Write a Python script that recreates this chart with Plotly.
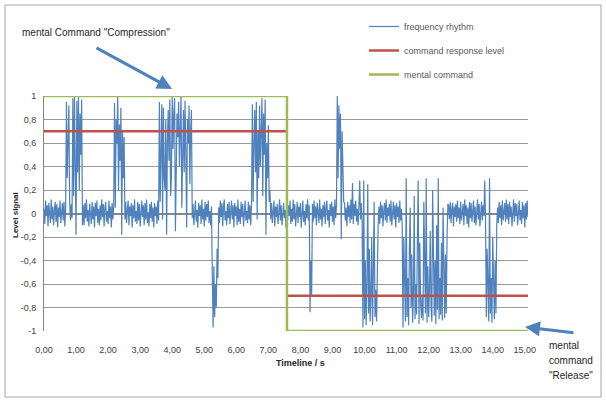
import plotly.graph_objects as go

# ---------------- data ----------------
sample_interval_s = 0.025  # time base of the recorded signal

frequency_rhythm = [
    # 0.000 - 0.675 s
    0.04, -0.09, 0.11, -0.02, 0.07, -0.11, 0.09, 0.01, -0.08, 0.12, -0.05, 0.06, -0.10, 0.03, 0.10, -0.07, 0.08, -0.12, 0.05, -0.03,
    0.11, -0.08, 0.02, 0.09, -0.06, 0.10, -0.11, 0.04,
    # 0.700 - 0.800 s
    0.95, 0.30, 0.60, 0.92, 0.10,
    # 0.825 - 0.875 s
    -0.06, 0.08, -0.04,
    # 0.900 - 1.200 s
    0.98, 0.15, 1.00, 0.40, -0.18, 0.96, 0.35, 0.99, 0.20, 0.85, 0.50, 0.97, -0.10,
    # 1.225 - 2.175 s
    0.07, -0.10, 0.09, -0.04, 0.12, -0.07, 0.03, -0.11, 0.08, 0.01, -0.09, 0.10, -0.05, 0.06, -0.12, 0.09, -0.02, 0.11, -0.08, 0.04,
    -0.10, 0.07, -0.06, 0.12, -0.03, 0.08, -0.11, 0.05, 0.10, -0.07, 0.02, -0.09, 0.11, -0.04, 0.06, -0.12, 0.09, -0.05, 0.07,
    # 2.200 - 2.500 s
    0.94, 0.05, 0.80, 0.60, 1.00, 0.20, 0.76, 0.45, 0.90, -0.18, 0.70, 0.30, 0.65,
    # 2.525 - 3.575 s
    -0.05, 0.10, -0.08, 0.03, 0.11, -0.10, 0.06, -0.02, 0.09, -0.12, 0.07, -0.04, 0.12, -0.07, 0.02, -0.09, 0.10, -0.06, 0.08, -0.11,
    0.04, 0.11, -0.03, 0.07, -0.10, 0.09, -0.05, 0.12, -0.08, 0.01, -0.11, 0.08, -0.04, 0.10, -0.07, 0.05, -0.12, 0.09, -0.02, 0.06,
    -0.09, 0.11, -0.06,
    # 3.600 - 4.600 s
    0.95, 0.10, 0.70, 0.93, -0.05, 0.90, 0.30, 0.20, 0.80, -0.18, 0.60, 0.88, 0.45, 0.97, 0.15, 0.30, 1.00, 0.55, 0.85, 0.98,
    -0.15, 0.40, 0.85, 0.65, 0.95, 0.40, 0.90, 1.00, 0.05, 0.75, 0.88, 0.35, 0.96, 0.50, -0.12, 0.80, 0.60, 0.92, 0.25, 0.70,
    0.88,
    # 4.625 - 5.225 s
    -0.04, 0.08, -0.10, 0.05, 0.11, -0.07, 0.03, -0.12, 0.09, -0.02, 0.07, -0.09, 0.12, -0.05, 0.04, -0.11, 0.10, -0.06, 0.08, -0.03,
    0.11, -0.08, 0.02, -0.10, 0.06,
    # 5.250 - 5.425 s
    -0.50, -0.97, -0.45, -0.88, -0.60, -0.80, -0.30, -0.55,
    # 5.450 - 6.475 s
    0.05, -0.08, 0.11, -0.03, 0.09, -0.11, 0.06, 0.12, -0.06, 0.02, -0.10, 0.08, -0.04, 0.10, -0.09, 0.03, 0.11, -0.05, 0.07, -0.12,
    0.09, -0.02, 0.06, -0.10, 0.12, -0.07, 0.04, -0.09, 0.10, -0.03, 0.08, -0.11, 0.05, 0.11, -0.06, 0.02, -0.08, 0.10, -0.05, 0.07,
    -0.10, 0.09,
    # 6.500 - 7.050 s
    0.93, 0.10, 0.60, 0.88, 0.35, 0.95, -0.05, 0.70, 0.30, 0.92, 0.40, 0.80, 0.98, 0.15, 0.85, 0.50, 0.97, -0.18, 0.60, 0.30,
    0.75, 0.10, 0.20,
    # 7.075 - 8.275 s
    -0.05, 0.09, -0.08, 0.04, 0.11, -0.11, 0.06, -0.03, 0.08, -0.09, 0.02, 0.12, -0.06, 0.07, -0.10, 0.05, 0.09, -0.04, 0.03, -0.12,
    0.10, -0.06, 0.07, -0.02, 0.11, -0.09, 0.04, -0.07, 0.12, -0.05, 0.08, -0.11, 0.03, 0.10, -0.08, 0.06, -0.03, 0.09, -0.12, 0.05,
    0.11, -0.07, 0.02, -0.10, 0.08, -0.04, 0.12, -0.06, 0.07,
    # 8.300 - 8.350 s
    -0.84, -0.40, -0.70,
    # 8.375 - 9.125 s
    0.08, -0.07, 0.11, -0.04, 0.06, -0.10, 0.09, 0.02, -0.08, 0.12, -0.05, 0.04, -0.11, 0.07, -0.03, 0.10, -0.09, 0.05, 0.11, -0.06,
    0.03, -0.12, 0.08, -0.02, 0.10, -0.07, 0.06, -0.10, 0.12, -0.04, 0.07,
    # 9.150 - 9.350 s
    1.00, 0.30, 0.92, 0.55, 0.85, -0.22, 0.70, 0.40, 0.10,
    # 9.375 - 9.925 s
    0.09, -0.06, 0.05, -0.11, 0.10, -0.03, 0.07, -0.08, 0.12, -0.05, 0.26, -0.09, 0.08, -0.02, 0.11, -0.07, 0.04, -0.10, 0.06, 0.28,
    -0.05, 0.09, -0.08,
    # 9.950 - 10.425 s
    -0.97, 0.28, -0.90, -0.40, -0.95, -0.60, 0.25, -0.85, -0.30, -0.92, -0.70, -0.20, -0.95, -0.50, 0.10, -0.88, -0.65, -0.92, -0.30, -0.10,
    # 10.450 - 11.175 s
    0.06, -0.09, 0.10, -0.04, 0.07, -0.11, 0.03, 0.09, -0.06, 0.12, -0.08, 0.05, -0.02, 0.08, -0.07, 0.11, -0.10, 0.04, 0.10, -0.05,
    0.07, -0.12, 0.09, -0.03, 0.06, -0.08, 0.11, -0.06, 0.04, -0.10,
    # 11.200 - 12.600 s
    -0.97, -0.20, -0.60, -0.92, 0.30, -0.88, -0.55, -0.95, -0.30, 0.05, -0.80, -0.35, -0.93, -0.70, 0.15, -0.90, -0.60, -0.86, -0.20, 0.28,
    -0.94, -0.25, -0.75, -0.89, -0.70, -0.91, 0.10, -0.50, -0.85, 0.30, -0.93, -0.45, -0.88, -0.65, -0.15, -0.80, -0.92, 0.20, -0.60, -0.87,
    -0.40, -0.94, -0.10, -0.82, 0.30, -0.90, -0.55, -0.86, -0.25, -0.91, 0.05, -0.70, -0.89, -0.35, -0.85, -0.20, 0.08,
    # 12.625 - 13.775 s
    0.07, -0.05, 0.10, -0.08, 0.04, 0.09, -0.11, 0.06, -0.03, 0.08, -0.07, 0.11, -0.04, 0.05, -0.09, 0.10, -0.06, 0.03, 0.08, -0.10,
    0.12, -0.02, 0.07, -0.09, 0.05, -0.12, 0.10, -0.04, 0.09, -0.07, 0.02, 0.11, -0.08, 0.06, -0.10, 0.04, 0.12, -0.05, 0.08, -0.11,
    0.03, 0.10, -0.06, 0.07, -0.02, 0.28, -0.05,
    # 13.800 - 14.125 s
    -0.88, -0.30, -0.60, -0.92, 0.30, -0.85, -0.55, -0.93, -0.20, -0.75, -0.90, -0.40, -0.85, -0.10,
    # 14.150 - 15.100 s
    0.05, -0.08, 0.10, -0.04, 0.07, -0.10, 0.11, -0.06, 0.03, 0.09, -0.07, 0.12, -0.05, 0.08, -0.09, 0.10, -0.03, 0.06, -0.11, 0.04,
    0.12, -0.07, 0.09, -0.02, 0.08, -0.10, 0.05, 0.11, -0.06, 0.03, -0.09, 0.10, -0.04, 0.07, -0.12, 0.09, -0.05, 0.11, -0.03,
]
timeline_s = [round(i * sample_interval_s, 3) for i in range(len(frequency_rhythm))]

command_switch_s = 7.58
end_s = 15.1

response_t = [0, command_switch_s, None, command_switch_s, end_s]
response_level = [0.7, 0.7, None, -0.7, -0.7]

mental_t = [0, command_switch_s, command_switch_s, end_s]
mental_level = [1, 1, -1, -1]

x_tick_vals = list(range(0, 16))
x_tick_text = [f"{v},00" for v in x_tick_vals]
y_tick_vals = [1, 0.8, 0.6, 0.4, 0.2, 0, -0.2, -0.4, -0.6, -0.8, -1]
y_tick_text = ["1", "0,8", "0,6", "0,4", "0,2", "0", "-0,2", "-0,4", "-0,6", "-0,8", "-1"]

# ---------------- figure ----------------
FONT = "Liberation Sans Narrow, Liberation Sans, Arial, sans-serif"
TXT = "#404040"

fig = go.Figure()
fig.add_trace(go.Scatter(x=timeline_s, y=frequency_rhythm, mode="lines",
                         name="frequency rhythm", legendgroup="a",
                         line=dict(color="#4F81BD", width=1.2)))
fig.add_trace(go.Scatter(x=response_t, y=response_level, mode="lines",
                         name="command response level", legendgroup="b",
                         line=dict(color="#C0504D", width=2.5)))
fig.add_trace(go.Scatter(x=mental_t, y=mental_level, mode="lines",
                         name="mental command", legendgroup="c",
                         line=dict(color="#9BBB59", width=2.5)))

L, R, T, B = 44, 528, 96, 331
W, H = 606, 400

def px(xp):
    return (xp - L) / (R - L)

def py(yp):
    return (B - yp) / (B - T)

fig.update_layout(
    width=W, height=H,
    margin=dict(l=L, r=W - R, t=T, b=H - B),
    paper_bgcolor="white", plot_bgcolor="white",
    font=dict(family=FONT, size=9, color=TXT),
    showlegend=True,
    legend=dict(x=px(364), y=py(12), xanchor="left", yanchor="top",
                traceorder="grouped", tracegroupgap=5,
                font=dict(size=9, color="#595959"), bgcolor="rgba(0,0,0,0)",
                itemwidth=30),
    xaxis=dict(range=[0, end_s], tickvals=x_tick_vals, ticktext=x_tick_text,
               showgrid=False, zeroline=False, showline=False,
               ticks="", ticklabelstandoff=12, tickfont=dict(size=9, color=TXT)),
    yaxis=dict(range=[-1, 1], tickvals=y_tick_vals, ticktext=y_tick_text,
               showgrid=True, gridcolor="#9a9a9a", gridwidth=1,
               zeroline=True, zerolinecolor="#868686", zerolinewidth=2,
               showline=True, linecolor="#868686", linewidth=1,
               ticks="", ticklabelstandoff=5, tickfont=dict(size=9, color=TXT)),
)

# outer chart border
fig.add_shape(type="rect", xref="paper", yref="paper",
              x0=px(5), x1=px(601), y0=py(397), y1=py(5),
              line=dict(color="#a6a6a6", width=1), layer="below")

# axis titles
fig.add_annotation(text="<b>Timeline / s</b>", xref="paper", yref="paper",
                   x=px(300), y=py(363), xanchor="center", yanchor="middle",
                   showarrow=False, font=dict(size=9, color="#262626"))
fig.add_annotation(text="<b>Level signal</b>", xref="paper", yref="paper",
                   x=px(15), y=py(215), xanchor="center", yanchor="middle",
                   textangle=-90, showarrow=False,
                   font=dict(size=8, color="#262626"))

# callouts
fig.add_annotation(text='mental Command "Compression"', xref="paper", yref="paper",
                   x=px(20), y=py(33), xanchor="left", yanchor="middle",
                   showarrow=False, font=dict(size=10, color="#262626"))
fig.add_annotation(text="", xref="paper", yref="paper", x=px(172), y=py(89),
                   ax=-77, ay=-42, showarrow=True, arrowhead=2, arrowsize=1,
                   arrowwidth=3, arrowcolor="#4F81BD")

for txt, yy in [("mental", 345), ("command", 360), ('"Release"', 375)]:
    fig.add_annotation(text=txt, xref="paper", yref="paper", x=px(547), y=py(yy),
                       xanchor="left", yanchor="middle", showarrow=False,
                       font=dict(size=10, color="#262626"))
fig.add_annotation(text="", xref="paper", yref="paper", x=px(525), y=py(327),
                   ax=50, ay=6, showarrow=True, arrowhead=2, arrowsize=1,
                   arrowwidth=3, arrowcolor="#4F81BD")

fig.write_html("out.html")
